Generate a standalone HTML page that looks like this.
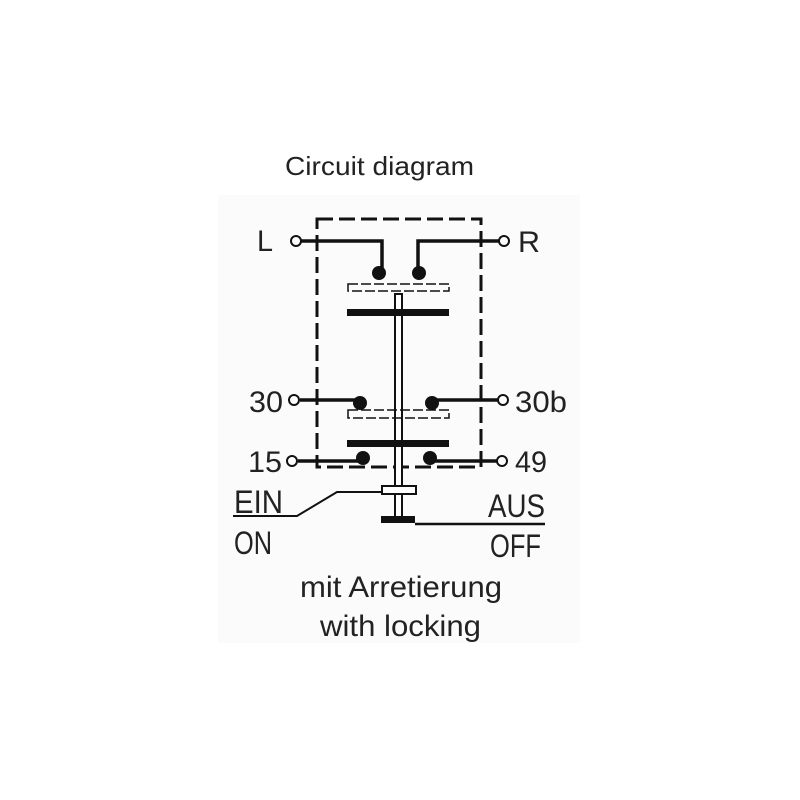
<!DOCTYPE html>
<html><head><style>body{margin:0;background:#fff}svg{display:block}text{font-family:"Liberation Sans",sans-serif;fill:#222}</style></head>
<body>
<svg width="800" height="800" viewBox="0 0 800 800" xmlns="http://www.w3.org/2000/svg">
<rect x="218" y="195" width="362" height="448" fill="#fbfbfb"/>
<text x="285" y="175" font-size="26" textLength="189" lengthAdjust="spacingAndGlyphs">Circuit diagram</text>
<g stroke="#111" fill="none">
<rect x="317" y="219" width="164" height="248" stroke-width="3" stroke-dasharray="16,6"/>
<polyline points="300,241 382,241 382,272" stroke-width="3.5"/>
<polyline points="500,241 418,241 418,272" stroke-width="3.5"/>
<rect x="348" y="284" width="101" height="7" stroke-width="1.5" stroke-dasharray="10,3"/>
<rect x="395" y="294" width="7" height="226" stroke-width="2" fill="#fff"/>
<line x1="300" y1="400" x2="358" y2="400" stroke-width="3.5"/>
<line x1="432" y1="400" x2="498" y2="400" stroke-width="3.5"/>
<rect x="348" y="410" width="101" height="8" stroke-width="1.5" stroke-dasharray="10,3"/>
<line x1="298" y1="461" x2="363" y2="461" stroke-width="3.5"/>
<line x1="430" y1="461" x2="497" y2="461" stroke-width="3.5"/>
<rect x="382" y="486" width="34" height="8" stroke-width="2" fill="#fff"/>
<polyline points="233,516 297,516 337,492 382,492" stroke-width="2"/>
<line x1="415" y1="524" x2="545" y2="524" stroke-width="2.5"/>
<circle cx="296" cy="241" r="5" stroke-width="2" fill="#fff"/>
<circle cx="504" cy="241" r="5" stroke-width="2" fill="#fff"/>
<circle cx="294" cy="400" r="5" stroke-width="2" fill="#fff"/>
<circle cx="503" cy="400" r="5" stroke-width="2" fill="#fff"/>
<circle cx="292" cy="461" r="5" stroke-width="2" fill="#fff"/>
<circle cx="502" cy="461" r="5" stroke-width="2" fill="#fff"/>
</g>
<g fill="#111">
<rect x="347" y="309" width="102" height="7"/>
<rect x="347" y="440" width="102" height="7"/>
<rect x="381" y="516" width="34" height="7"/>
<circle cx="379" cy="273" r="7"/>
<circle cx="419" cy="273" r="7"/>
<circle cx="360" cy="403" r="7"/>
<circle cx="432" cy="403" r="7"/>
<circle cx="363" cy="458" r="7"/>
<circle cx="430" cy="458" r="7"/>
</g>
<g font-size="30">
<text x="257" y="251" textLength="16" lengthAdjust="spacingAndGlyphs">L</text>
<text x="518" y="252" textLength="22" lengthAdjust="spacingAndGlyphs">R</text>
<text x="249" y="412" textLength="34" lengthAdjust="spacingAndGlyphs">30</text>
<text x="515" y="412" textLength="52" lengthAdjust="spacingAndGlyphs">30b</text>
<text x="248" y="472" textLength="34" lengthAdjust="spacingAndGlyphs">15</text>
<text x="515" y="472" textLength="32" lengthAdjust="spacingAndGlyphs">49</text>
<text x="300" y="597" textLength="202" lengthAdjust="spacingAndGlyphs">mit Arretierung</text>
<text x="320" y="636" textLength="161" lengthAdjust="spacingAndGlyphs">with locking</text>
</g>
<g font-size="32">
<text x="234" y="513" textLength="49" lengthAdjust="spacingAndGlyphs">EIN</text>
<text x="234" y="554" textLength="38" lengthAdjust="spacingAndGlyphs">ON</text>
<text x="488" y="517" textLength="57" lengthAdjust="spacingAndGlyphs">AUS</text>
<text x="490" y="557" textLength="51" lengthAdjust="spacingAndGlyphs">OFF</text>
</g>
</svg>
</body></html>
